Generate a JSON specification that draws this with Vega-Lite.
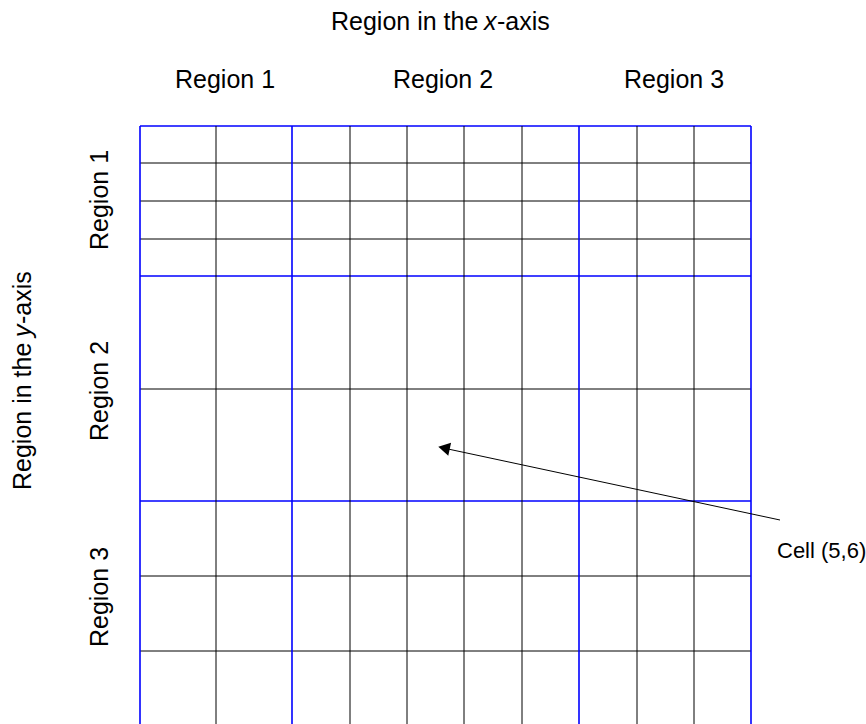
{
  "$schema": "https://vega.github.io/schema/vega-lite/v6.json",
  "width": 866,
  "height": 724,
  "padding": 0,
  "autosize": "none",
  "background": "white",
  "config": {"view": {"stroke": null}, "font": "Liberation Sans"},
  "datasets": {
    "vlines": [
      {"x": 140, "y1": 126, "y2": 724, "kind": "region"},
      {"x": 216, "y1": 126, "y2": 724, "kind": "cell"},
      {"x": 292, "y1": 126, "y2": 724, "kind": "region"},
      {"x": 350, "y1": 126, "y2": 724, "kind": "cell"},
      {"x": 407, "y1": 126, "y2": 724, "kind": "cell"},
      {"x": 464, "y1": 126, "y2": 724, "kind": "cell"},
      {"x": 522, "y1": 126, "y2": 724, "kind": "cell"},
      {"x": 579, "y1": 126, "y2": 724, "kind": "region"},
      {"x": 637, "y1": 126, "y2": 724, "kind": "cell"},
      {"x": 694, "y1": 126, "y2": 724, "kind": "cell"},
      {"x": 751, "y1": 126, "y2": 724, "kind": "region"}
    ],
    "hlines": [
      {"y": 163, "x1": 140, "x2": 751, "kind": "cell"},
      {"y": 201, "x1": 140, "x2": 751, "kind": "cell"},
      {"y": 239, "x1": 140, "x2": 751, "kind": "cell"},
      {"y": 389, "x1": 140, "x2": 751, "kind": "cell"},
      {"y": 576, "x1": 140, "x2": 751, "kind": "cell"},
      {"y": 651, "x1": 140, "x2": 751, "kind": "cell"},
      {"y": 126, "x1": 140, "x2": 751, "kind": "region"},
      {"y": 276, "x1": 140, "x2": 751, "kind": "region"},
      {"y": 501, "x1": 140, "x2": 751, "kind": "region"}
    ],
    "htext": [
      {"x": 331, "y": 22, "label": "Region in the "},
      {"x": 497, "y": 22, "label": "-axis"},
      {"x": 175, "y": 80, "label": "Region 1"},
      {"x": 393, "y": 80, "label": "Region 2"},
      {"x": 624, "y": 80, "label": "Region 3"}
    ],
    "hitalic": [
      {"x": 484, "y": 22, "label": "x"}
    ],
    "celltext": [
      {"x": 777, "y": 551, "label": "Cell (5,6)"}
    ],
    "vtext": [
      {"x": 23, "y": 490, "label": "Region in the "},
      {"x": 23, "y": 324, "label": "-axis"},
      {"x": 100, "y": 250, "label": "Region 1"},
      {"x": 100, "y": 441, "label": "Region 2"},
      {"x": 100, "y": 647, "label": "Region 3"}
    ],
    "vitalic": [
      {"x": 23, "y": 337, "label": "y"}
    ],
    "arrow": [
      {"x": 780, "y": 520, "x2": 448, "y2": 449}
    ],
    "arrowhead": [
      {"x": 444, "y": 448}
    ]
  },
  "layer": [
    {
      "data": {"name": "hlines"},
      "mark": {"type": "rule", "clip": true},
      "encoding": {
        "x": {"field": "x1", "type": "quantitative", "scale": {"domain": [0, 866], "nice": false, "zero": false}, "axis": null},
        "x2": {"field": "x2"},
        "y": {"field": "y", "type": "quantitative", "scale": {"domain": [0, 724], "reverse": true, "nice": false, "zero": false}, "axis": null},
        "color": {"field": "kind", "type": "nominal", "scale": {"domain": ["cell", "region"], "range": ["#000000", "#0000ff"]}, "legend": null},
        "strokeWidth": {"field": "kind", "type": "nominal", "scale": {"domain": ["cell", "region"], "range": [1, 1.6]}, "legend": null}
      }
    },
    {
      "data": {"name": "vlines"},
      "mark": {"type": "rule", "clip": true},
      "encoding": {
        "x": {"field": "x", "type": "quantitative"},
        "y": {"field": "y1", "type": "quantitative"},
        "y2": {"field": "y2"},
        "color": {"field": "kind", "type": "nominal", "legend": null},
        "strokeWidth": {"field": "kind", "type": "nominal", "legend": null}
      }
    },
    {
      "data": {"name": "arrow"},
      "mark": {"type": "rule", "color": "#000000", "strokeWidth": 1},
      "encoding": {
        "x": {"field": "x", "type": "quantitative"},
        "y": {"field": "y", "type": "quantitative"},
        "x2": {"field": "x2"},
        "y2": {"field": "y2"}
      }
    },
    {
      "data": {"name": "arrowhead"},
      "mark": {"type": "point", "shape": "triangle-left", "filled": true, "color": "#000000", "opacity": 1, "size": 180, "angle": 12},
      "encoding": {
        "x": {"field": "x", "type": "quantitative"},
        "y": {"field": "y", "type": "quantitative"}
      }
    },
    {
      "data": {"name": "htext"},
      "mark": {"type": "text", "align": "left", "baseline": "middle", "fontSize": 25, "color": "#000000"},
      "encoding": {
        "x": {"field": "x", "type": "quantitative"},
        "y": {"field": "y", "type": "quantitative"},
        "text": {"field": "label"}
      }
    },
    {
      "data": {"name": "hitalic"},
      "mark": {"type": "text", "align": "left", "baseline": "middle", "fontSize": 25, "fontStyle": "italic", "color": "#000000"},
      "encoding": {
        "x": {"field": "x", "type": "quantitative"},
        "y": {"field": "y", "type": "quantitative"},
        "text": {"field": "label"}
      }
    },
    {
      "data": {"name": "celltext"},
      "mark": {"type": "text", "align": "left", "baseline": "middle", "fontSize": 22, "color": "#000000"},
      "encoding": {
        "x": {"field": "x", "type": "quantitative"},
        "y": {"field": "y", "type": "quantitative"},
        "text": {"field": "label"}
      }
    },
    {
      "data": {"name": "vtext"},
      "mark": {"type": "text", "align": "left", "baseline": "middle", "fontSize": 25, "angle": 270, "color": "#000000"},
      "encoding": {
        "x": {"field": "x", "type": "quantitative"},
        "y": {"field": "y", "type": "quantitative"},
        "text": {"field": "label"}
      }
    },
    {
      "data": {"name": "vitalic"},
      "mark": {"type": "text", "align": "left", "baseline": "middle", "fontSize": 25, "fontStyle": "italic", "angle": 270, "color": "#000000"},
      "encoding": {
        "x": {"field": "x", "type": "quantitative"},
        "y": {"field": "y", "type": "quantitative"},
        "text": {"field": "label"}
      }
    }
  ]
}
